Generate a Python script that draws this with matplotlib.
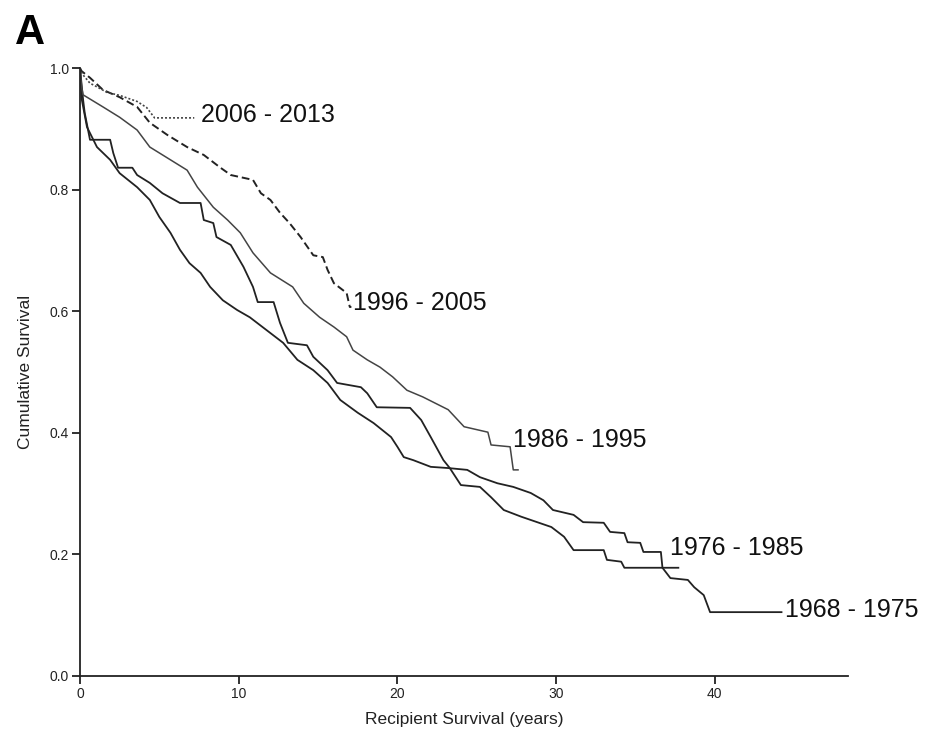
import matplotlib
matplotlib.use("Agg")
import matplotlib.pyplot as plt

plt.rcParams['font.family'] = ['Liberation Sans', 'DejaVu Sans']

# Kaplan-Meier curves (years, cumulative survival)
t_2006 = [0, 0.15, 0.63, 1.0, 1.7, 2.5, 3.6, 4.2, 4.7, 7.2]
s_2006 = [1.0, 0.99, 0.975, 0.97, 0.96, 0.955, 0.945, 0.935, 0.918, 0.918]

t_1996 = [0, 0.1, 0.63, 1.45, 2.5, 3.6, 4.4, 5.5, 6.75, 7.8, 8.8, 9.5, 10.9,
          11.4, 12.0, 12.6, 13.2, 13.9, 14.7, 15.3, 15.6, 16.0, 16.8, 17.0, 17.1]
s_1996 = [1.0, 0.995, 0.984, 0.964, 0.952, 0.936, 0.910, 0.890, 0.870, 0.857,
          0.837, 0.824, 0.816, 0.794, 0.783, 0.762, 0.745, 0.722, 0.692, 0.689,
          0.668, 0.646, 0.630, 0.607, 0.607]

t_1986 = [0, 0.1, 0.19, 1.45, 2.5, 3.6, 4.4, 5.7, 6.75, 7.4, 8.4, 9.3, 10.1,
          10.9, 12.0, 13.4, 14.1, 15.1, 16.0, 16.8, 17.2, 18.1, 18.9, 19.7,
          20.6, 21.6, 23.2, 24.2, 25.7, 25.9, 27.1, 27.3, 27.6]
s_1986 = [1.0, 0.97, 0.956, 0.936, 0.919, 0.898, 0.870, 0.849, 0.832, 0.804,
          0.771, 0.750, 0.729, 0.696, 0.663, 0.640, 0.613, 0.590, 0.574, 0.558,
          0.536, 0.520, 0.508, 0.492, 0.470, 0.459, 0.438, 0.410, 0.401, 0.380,
          0.377, 0.339, 0.339]

t_1976 = [0, 0.2, 0.3, 0.63, 1.9, 2.1, 2.4, 3.3, 3.6, 4.4, 5.2, 6.3, 7.6, 7.8,
          8.4, 8.6, 9.5, 10.3, 10.9, 11.2, 12.2, 12.6, 13.1, 14.3, 14.7, 15.6,
          16.2, 17.7, 18.1, 18.7, 20.8, 21.5, 22.1, 22.9, 23.3, 24.0, 25.2,
          25.9, 26.7, 27.8, 29.7, 30.5, 31.1, 33.0, 33.2, 34.1, 34.3, 37.7]
s_1976 = [1.0, 0.947, 0.926, 0.882, 0.882, 0.860, 0.836, 0.836, 0.824, 0.811,
          0.794, 0.778, 0.778, 0.750, 0.745, 0.722, 0.709, 0.673, 0.640, 0.615,
          0.615, 0.581, 0.548, 0.544, 0.525, 0.503, 0.482, 0.475, 0.465, 0.442,
          0.441, 0.421, 0.393, 0.355, 0.342, 0.314, 0.311, 0.294, 0.273, 0.262,
          0.245, 0.229, 0.207, 0.207, 0.191, 0.188, 0.178, 0.178]

t_1968 = [0, 0.1, 0.44, 1.07, 1.9, 2.5, 3.6, 4.4, 5.0, 5.7, 6.3, 6.9, 7.6, 8.2,
          9.0, 9.9, 10.7, 11.5, 12.0, 12.8, 13.7, 14.7, 15.6, 16.4, 17.5, 18.5,
          19.6, 20.0, 20.4, 21.0, 22.1, 23.2, 24.4, 25.2, 26.3, 27.3, 28.4,
          29.2, 29.8, 31.1, 31.7, 33.0, 33.4, 34.3, 34.5, 35.3, 35.5, 36.6,
          36.7, 37.2, 38.3, 38.7, 39.3, 39.7, 44.2]
s_1968 = [1.0, 0.95, 0.903, 0.870, 0.849, 0.827, 0.804, 0.783, 0.755, 0.729,
          0.701, 0.679, 0.663, 0.640, 0.618, 0.602, 0.590, 0.574, 0.564, 0.548,
          0.520, 0.503, 0.482, 0.454, 0.433, 0.416, 0.393, 0.377, 0.360, 0.355,
          0.344, 0.342, 0.339, 0.327, 0.317, 0.311, 0.301, 0.289, 0.273, 0.265,
          0.253, 0.252, 0.237, 0.235, 0.220, 0.219, 0.204, 0.204, 0.178, 0.161,
          0.158, 0.146, 0.133, 0.105, 0.105]

labels = ['2006 - 2013', '1996 - 2005', '1986 - 1995', '1976 - 1985', '1968 - 1975']
label_t = [7.6, 17.2, 27.3, 37.2, 44.4]
label_s = [0.923, 0.613, 0.388, 0.21, 0.108]

fig = plt.figure(figsize=(9.3, 7.37), dpi=100)
ax = fig.add_axes([0.086, 0.0828, 0.826, 0.8249])

ax.plot(t_1968, s_1968, color='#222222', lw=1.3)
ax.plot(t_1976, s_1976, color='#222222', lw=1.3)
ax.plot(t_1986, s_1986, color='#444444', lw=1.1)
ax.plot(t_1996, s_1996, color='#222222', lw=1.4, ls=(0, (4, 2)))
ax.plot(t_2006, s_2006, color='#444444', lw=1.2, ls=(0, (1.2, 1.2)))

for lab, tx, sy in zip(labels, label_t, label_s):
    ax.text(tx, sy, lab, fontsize=18, color='#111111', va='center', ha='left')

ax.set_xlim(0, 48.4)
ax.set_ylim(0, 1.0)
ax.set_xticks([0, 10, 20, 30, 40])
ax.set_yticks([0.0, 0.2, 0.4, 0.6, 0.8, 1.0])
ax.set_yticklabels(['0.0', '0.2', '0.4', '0.6', '0.8', '1.0'])
for side in ['top', 'right']:
    ax.spines[side].set_visible(False)
for side in ['left', 'bottom']:
    ax.spines[side].set_linewidth(1.3)
    ax.spines[side].set_color('#222222')
ax.tick_params(direction='out', length=6, width=1.3, labelsize=10,
               colors='#222222', pad=2)

ax.set_xlabel('Recipient Survival (years)', fontsize=12.5, color='#222222', labelpad=8)
ax.set_ylabel('Cumulative Survival', fontsize=12.5, color='#222222', labelpad=12)

fig.text(0.016, 0.955, 'A', fontsize=30, fontweight='bold', va='center', ha='left')

plt.savefig('out.png', dpi=100)
